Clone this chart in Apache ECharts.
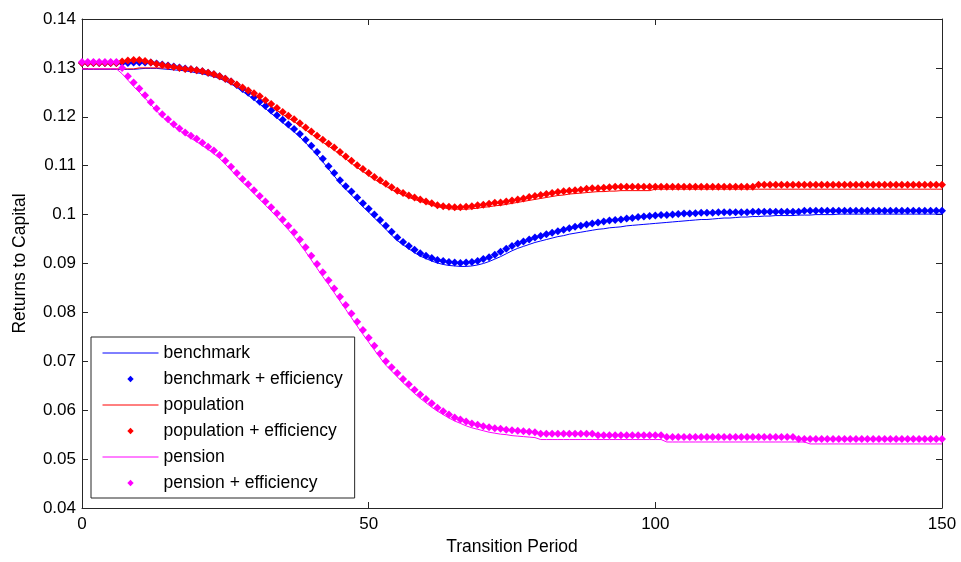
<!DOCTYPE html>
<html>
<head>
<meta charset="utf-8">
<script src="https://cdn.jsdelivr.net/npm/echarts@6/dist/echarts.min.js"></script>
<style>
  html, body { margin: 0; padding: 0; background: #fff; }
  #chart { width: 961px; height: 562px; }
</style>
</head>
<body>
<div id="chart"></div>
<script>
// returns to capital per transition period (period = index, 0..150)
const benchmark = [
  0.1297,0.1297,0.1297,0.1297,0.1297,0.1297,0.1297,0.1297,0.1297,0.1297,
  0.1298,0.1299,0.1299,0.1299,0.1298,0.1297,0.1296,0.1295,0.1294,0.1292,
  0.1290,0.1288,0.1285,0.1282,0.1278,0.1273,0.1267,0.1260,0.1252,0.1244,
  0.1235,0.1226,0.1217,0.1207,0.1198,0.1188,0.1179,0.1169,0.1159,0.1147,
  0.1135,0.1122,0.1108,0.1093,0.1079,0.1064,0.1052,0.1040,0.1028,0.1016,
  0.1005,0.0993,0.0982,0.0970,0.0958,0.0947,0.0938,0.0930,0.0922,0.0915,
  0.0910,0.0905,0.0901,0.0898,0.0896,0.0895,0.0894,0.0894,0.0895,0.0897,
  0.0900,0.0904,0.0909,0.0914,0.0920,0.0926,0.0931,0.0935,0.0939,0.0943,
  0.0946,0.0949,0.0952,0.0955,0.0957,0.0960,0.0962,0.0964,0.0966,0.0968,
  0.0970,0.0971,0.0973,0.0974,0.0975,0.0977,0.0978,0.0979,0.0980,0.0981,
  0.0982,0.0983,0.0984,0.0985,0.0986,0.0987,0.0988,0.0989,0.0990,0.0990,
  0.0991,0.0992,0.0993,0.0993,0.0994,0.0995,0.0995,0.0996,0.0996,0.0997,
  0.0997,0.0998,0.0998,0.0998,0.0998,0.0999,0.0999,0.0999,0.1000,0.1000,
  0.1000,0.1000,0.1001,0.1001,0.1001,0.1001,0.1001,0.1001,0.1001,0.1001,
  0.1001,0.1001,0.1001,0.1001,0.1001,0.1001,0.1001,0.1001,0.1001,0.1001,
  0.1001
];
const benchmarkEff = [
  0.1310,0.1310,0.1310,0.1310,0.1310,0.1310,0.1310,0.1310,0.1310,0.1311,
  0.1311,0.1311,0.1311,0.1309,0.1307,0.1305,0.1303,0.1301,0.1299,0.1297,
  0.1295,0.1293,0.1290,0.1287,0.1283,0.1278,0.1272,0.1265,0.1257,0.1249,
  0.1240,0.1231,0.1222,0.1213,0.1203,0.1194,0.1184,0.1175,0.1165,0.1153,
  0.1141,0.1128,0.1114,0.1099,0.1085,0.1070,0.1058,0.1047,0.1035,0.1023,
  0.1012,0.1000,0.0989,0.0977,0.0965,0.0953,0.0944,0.0936,0.0928,0.0921,
  0.0916,0.0911,0.0907,0.0905,0.0903,0.0902,0.0901,0.0902,0.0903,0.0905,
  0.0909,0.0913,0.0918,0.0924,0.0930,0.0936,0.0941,0.0945,0.0949,0.0953,
  0.0956,0.0960,0.0963,0.0966,0.0969,0.0972,0.0975,0.0977,0.0980,0.0982,
  0.0984,0.0986,0.0988,0.0989,0.0990,0.0992,0.0993,0.0995,0.0996,0.0997,
  0.0998,0.0999,0.0999,0.1000,0.1001,0.1002,0.1002,0.1003,0.1004,0.1004,
  0.1004,0.1005,0.1005,0.1005,0.1005,0.1005,0.1005,0.1006,0.1006,0.1006,
  0.1006,0.1006,0.1006,0.1006,0.1006,0.1006,0.1008,0.1008,0.1008,0.1008,
  0.1008,0.1008,0.1008,0.1008,0.1008,0.1008,0.1008,0.1008,0.1008,0.1008,
  0.1008,0.1008,0.1008,0.1008,0.1008,0.1008,0.1008,0.1008,0.1008,0.1008,
  0.1008
];
const population = [
  0.1298,0.1298,0.1298,0.1298,0.1298,0.1298,0.1298,0.1298,0.1298,0.1298,
  0.1300,0.1300,0.1300,0.1300,0.1300,0.1300,0.1300,0.1299,0.1297,0.1295,
  0.1293,0.1290,0.1287,0.1283,0.1279,0.1274,0.1268,0.1262,0.1256,0.1250,
  0.1244,0.1237,0.1229,0.1221,0.1213,0.1205,0.1197,0.1190,0.1182,0.1173,
  0.1165,0.1156,0.1148,0.1140,0.1132,0.1123,0.1114,0.1105,0.1096,0.1088,
  0.1080,0.1072,0.1065,0.1058,0.1051,0.1045,0.1040,0.1035,0.1031,0.1027,
  0.1023,0.1019,0.1016,0.1014,0.1012,0.1011,0.1011,0.1011,0.1012,0.1013,
  0.1015,0.1016,0.1018,0.1019,0.1021,0.1023,0.1025,0.1027,0.1029,0.1031,
  0.1033,0.1035,0.1037,0.1039,0.1040,0.1042,0.1043,0.1044,0.1045,0.1046,
  0.1047,0.1047,0.1048,0.1048,0.1049,0.1049,0.1049,0.1049,0.1049,0.1049,
  0.1052,0.1052,0.1052,0.1052,0.1052,0.1052,0.1052,0.1052,0.1052,0.1052,
  0.1052,0.1052,0.1052,0.1052,0.1052,0.1052,0.1052,0.1052,0.1052,0.1052,
  0.1052,0.1052,0.1052,0.1052,0.1052,0.1052,0.1052,0.1052,0.1052,0.1052,
  0.1052,0.1052,0.1052,0.1052,0.1052,0.1052,0.1052,0.1052,0.1052,0.1052,
  0.1052,0.1052,0.1052,0.1052,0.1052,0.1052,0.1052,0.1052,0.1052,0.1052,
  0.1052
];
const populationEff = [
  0.1310,0.1310,0.1310,0.1310,0.1310,0.1310,0.1310,0.1313,0.1315,0.1316,
  0.1316,0.1314,0.1311,0.1308,0.1306,0.1304,0.1302,0.1300,0.1298,0.1297,
  0.1295,0.1293,0.1290,0.1287,0.1283,0.1278,0.1272,0.1266,0.1260,0.1254,
  0.1248,0.1242,0.1234,0.1226,0.1218,0.1210,0.1202,0.1195,0.1187,0.1178,
  0.1170,0.1161,0.1153,0.1145,0.1137,0.1128,0.1119,0.1110,0.1101,0.1093,
  0.1085,0.1077,0.1070,0.1063,0.1056,0.1049,0.1044,0.1039,0.1035,0.1031,
  0.1027,0.1023,0.1019,0.1017,0.1016,0.1015,0.1015,0.1016,0.1017,0.1019,
  0.1020,0.1022,0.1024,0.1025,0.1027,0.1029,0.1031,0.1033,0.1036,0.1038,
  0.1040,0.1042,0.1044,0.1046,0.1048,0.1049,0.1050,0.1051,0.1053,0.1054,
  0.1054,0.1055,0.1056,0.1057,0.1057,0.1057,0.1057,0.1057,0.1057,0.1057,
  0.1057,0.1057,0.1057,0.1057,0.1057,0.1057,0.1057,0.1057,0.1057,0.1057,
  0.1057,0.1057,0.1057,0.1057,0.1057,0.1057,0.1057,0.1057,0.1061,0.1061,
  0.1061,0.1061,0.1061,0.1061,0.1061,0.1061,0.1061,0.1061,0.1061,0.1061,
  0.1061,0.1061,0.1061,0.1061,0.1061,0.1061,0.1061,0.1061,0.1061,0.1061,
  0.1061,0.1061,0.1061,0.1061,0.1061,0.1061,0.1061,0.1061,0.1061,0.1061,
  0.1061
];
const pension = [
  0.1298,0.1298,0.1298,0.1298,0.1298,0.1298,0.1298,0.1288,0.1275,0.1262,
  0.1250,0.1238,0.1225,0.1212,0.1200,0.1190,0.1181,0.1172,0.1164,0.1156,
  0.1149,0.1141,0.1133,0.1124,0.1115,0.1103,0.1091,0.1078,0.1066,0.1055,
  0.1043,0.1031,0.1019,0.1007,0.0995,0.0982,0.0969,0.0955,0.0940,0.0924,
  0.0907,0.0890,0.0873,0.0857,0.0840,0.0823,0.0806,0.0789,0.0772,0.0755,
  0.0739,0.0723,0.0707,0.0692,0.0680,0.0668,0.0656,0.0645,0.0634,0.0624,
  0.0615,0.0606,0.0598,0.0591,0.0584,0.0578,0.0573,0.0568,0.0564,0.0561,
  0.0558,0.0555,0.0553,0.0551,0.0550,0.0548,0.0547,0.0546,0.0545,0.0544,
  0.0540,0.0540,0.0540,0.0540,0.0540,0.0540,0.0540,0.0540,0.0540,0.0540,
  0.0540,0.0540,0.0540,0.0540,0.0540,0.0540,0.0540,0.0540,0.0540,0.0540,
  0.0540,0.0540,0.0535,0.0535,0.0535,0.0535,0.0535,0.0535,0.0535,0.0535,
  0.0535,0.0535,0.0535,0.0535,0.0535,0.0535,0.0535,0.0535,0.0535,0.0535,
  0.0535,0.0535,0.0535,0.0535,0.0535,0.0535,0.0535,0.0531,0.0531,0.0531,
  0.0531,0.0531,0.0531,0.0531,0.0531,0.0531,0.0531,0.0531,0.0531,0.0531,
  0.0531,0.0531,0.0531,0.0531,0.0531,0.0531,0.0531,0.0531,0.0531,0.0531,
  0.0531
];
const pensionEff = [
  0.1312,0.1312,0.1312,0.1312,0.1312,0.1312,0.1312,0.1300,0.1283,0.1270,
  0.1258,0.1244,0.1230,0.1217,0.1205,0.1195,0.1185,0.1176,0.1168,0.1161,
  0.1155,0.1147,0.1139,0.1131,0.1122,0.1110,0.1098,0.1085,0.1073,0.1062,
  0.1050,0.1038,0.1027,0.1015,0.1003,0.0990,0.0977,0.0964,0.0949,0.0933,
  0.0916,0.0899,0.0882,0.0866,0.0849,0.0832,0.0815,0.0798,0.0781,0.0764,
  0.0748,0.0732,0.0716,0.0700,0.0688,0.0676,0.0664,0.0653,0.0642,0.0632,
  0.0623,0.0614,0.0605,0.0598,0.0591,0.0585,0.0581,0.0577,0.0573,0.0570,
  0.0567,0.0565,0.0563,0.0562,0.0560,0.0559,0.0558,0.0557,0.0556,0.0555,
  0.0552,0.0552,0.0552,0.0552,0.0552,0.0552,0.0552,0.0552,0.0552,0.0552,
  0.0549,0.0549,0.0549,0.0549,0.0549,0.0549,0.0549,0.0549,0.0549,0.0549,
  0.0549,0.0549,0.0545,0.0545,0.0545,0.0545,0.0545,0.0545,0.0545,0.0545,
  0.0545,0.0545,0.0545,0.0545,0.0545,0.0545,0.0545,0.0545,0.0545,0.0545,
  0.0545,0.0545,0.0545,0.0545,0.0545,0.0541,0.0541,0.0541,0.0541,0.0541,
  0.0541,0.0541,0.0541,0.0541,0.0541,0.0541,0.0541,0.0541,0.0541,0.0541,
  0.0541,0.0541,0.0541,0.0541,0.0541,0.0541,0.0541,0.0541,0.0541,0.0541,
  0.0541
];

const xTicks = [0, 50, 100, 150];
const yTicks = [0.04, 0.05, 0.06, 0.07, 0.08, 0.09, 0.1, 0.11, 0.12, 0.13, 0.14];

const FONT = "'Liberation Sans', Arial, sans-serif";
const AXIS_COLOR = '#262626';

// period is the array index
function toPoints(values) {
  return values.map((v, i) => [i, v]);
}

function lineSeries(name, values, color) {
  return {
    name: name,
    type: 'line',
    data: toPoints(values),
    symbol: 'none',
    lineStyle: { color: color, width: 1 },
    itemStyle: { color: color },
    emphasis: { disabled: true }
  };
}

function markerSeries(name, values, color) {
  return {
    name: name,
    type: 'line',
    data: toPoints(values),
    symbol: 'diamond',
    symbolSize: 8,
    showSymbol: true,
    showAllSymbol: true,
    lineStyle: { width: 0 },
    itemStyle: { color: color },
    emphasis: { disabled: true }
  };
}

function axisBase(min, max, interval) {
  return {
    type: 'value',
    min: min,
    max: max,
    interval: interval,
    splitLine: { show: false },
    axisLine: { show: true, onZero: false, lineStyle: { color: AXIS_COLOR, width: 1 } },
    axisTick: { show: true, inside: true, length: 6, lineStyle: { color: AXIS_COLOR } }
  };
}

let chart = echarts.init(document.getElementById('chart'), null, { renderer: 'canvas' });

let bottomAxis = Object.assign(axisBase(xTicks[0], xTicks[xTicks.length - 1], xTicks[1] - xTicks[0]), {
  position: 'bottom',
  name: 'Transition Period',
  nameLocation: 'middle',
  nameGap: 29,
  nameTextStyle: { fontFamily: FONT, fontSize: 17.5, color: '#000' },
  axisLabel: { fontFamily: FONT, fontSize: 17, color: '#000', margin: 8 }
});
let topAxis = Object.assign(axisBase(xTicks[0], xTicks[xTicks.length - 1], xTicks[1] - xTicks[0]), {
  position: 'top',
  axisLabel: { show: false }
});
let leftAxis = Object.assign(axisBase(yTicks[0], yTicks[yTicks.length - 1], 0.01), {
  position: 'left',
  name: 'Returns to Capital',
  nameLocation: 'middle',
  nameGap: 53,
  nameTextStyle: { fontFamily: FONT, fontSize: 17.5, color: '#000' },
  axisLabel: {
    fontFamily: FONT, fontSize: 17, color: '#000', margin: 6,
    formatter: v => String(+v.toFixed(2))
  }
});
let rightAxis = Object.assign(axisBase(yTicks[0], yTicks[yTicks.length - 1], 0.01), {
  position: 'right',
  axisLabel: { show: false }
});

let options = {
  animation: false,
  backgroundColor: '#fff',
  grid: { left: 82, right: 19, top: 19, bottom: 54, containLabel: false },
  xAxis: [bottomAxis, topAxis],
  yAxis: [leftAxis, rightAxis],
  legend: {
    orient: 'vertical',
    left: 91,
    top: 337,
    itemWidth: 56,
    itemHeight: 8,
    itemGap: 6,
    padding: [6, 12, 5, 11],
    borderColor: AXIS_COLOR,
    borderWidth: 1,
    backgroundColor: '#fff',
    textStyle: { fontFamily: FONT, fontSize: 17.5, color: '#000', lineHeight: 20 },
    selectedMode: false,
    data: [
      { name: 'benchmark', itemStyle: { opacity: 0 }, lineStyle: { width: 1 } },
      { name: 'benchmark + efficiency', lineStyle: { opacity: 0 } },
      { name: 'population', itemStyle: { opacity: 0 }, lineStyle: { width: 1 } },
      { name: 'population + efficiency', lineStyle: { opacity: 0 } },
      { name: 'pension', itemStyle: { opacity: 0 }, lineStyle: { width: 1 } },
      { name: 'pension + efficiency', lineStyle: { opacity: 0 } }
    ]
  },
  series: [
    lineSeries('benchmark', benchmark, '#0000ff'),
    markerSeries('benchmark + efficiency', benchmarkEff, '#0000ff'),
    lineSeries('population', population, '#ff0000'),
    markerSeries('population + efficiency', populationEff, '#ff0000'),
    lineSeries('pension', pension, '#ff00ff'),
    markerSeries('pension + efficiency', pensionEff, '#ff00ff')
  ]
};

chart.setOption(options);
</script>
</body>
</html>
